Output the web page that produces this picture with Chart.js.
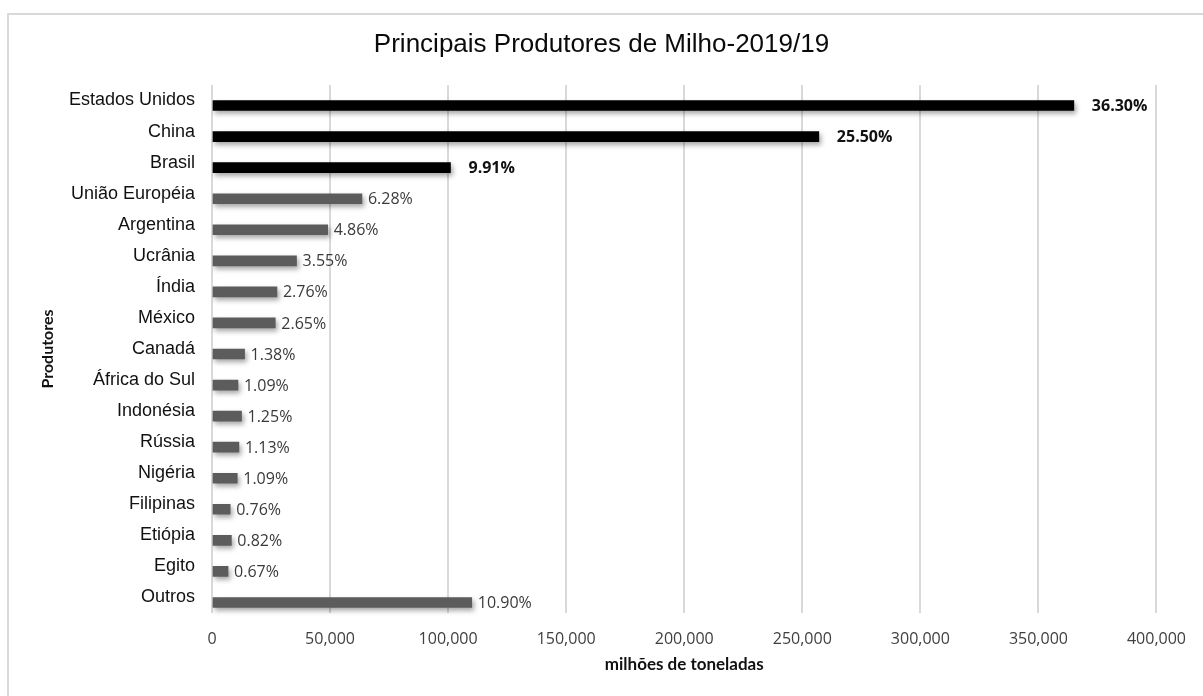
<!DOCTYPE html>
<html lang="pt">
<head>
<meta charset="UTF-8">
<title>Principais Produtores de Milho</title>
<style>
  html, body { margin: 0; padding: 0; background: #fff; }
  #milho { display: block; }
</style>
</head>
<body>
<canvas id="milho" width="1203" height="696"></canvas>
<script src="https://cdn.jsdelivr.net/npm/chart.js"></script>
<script>
// produção de milho por país (mil toneladas) e participação no total
const produtores = ['Estados Unidos', 'China', 'Brasil', 'União Européia', 'Argentina', 'Ucrânia', 'Índia',
  'México', 'Canadá', 'África do Sul', 'Indonésia', 'Rússia', 'Nigéria', 'Filipinas', 'Etiópia', 'Egito', 'Outros'];
const producao = [365000, 257000, 101000, 63500, 49000, 35800, 27500,
  26800, 13800, 11000, 12500, 11400, 10700, 7700, 8200, 6800, 110000];
const participacao = ['36.30%', '25.50%', '9.91%', '6.28%', '4.86%', '3.55%', '2.76%',
  '2.65%', '1.38%', '1.09%', '1.25%', '1.13%', '1.09%', '0.76%', '0.82%', '0.67%', '10.90%'];
const eixoX = [0, 50000, 100000, 150000, 200000, 250000, 300000, 350000, 400000];

const DESTAQUES = 3; // os três maiores ficam em preto
const corBarra = (i) => i < DESTAQUES ? '#000000' : '#5c5c5c';

// moldura cinza em volta do gráfico; título centrado na largura toda
const moldura = {
  id: 'moldura',
  afterLayout(chart) {
    const t = chart.titleBlock;
    if (t) { t.left = 0; t.right = chart.width; t.width = chart.width; }
  },
  beforeDraw(chart) {
    const ctx = chart.ctx;
    ctx.save();
    ctx.fillStyle = '#fff';
    ctx.fillRect(0, 0, chart.width, chart.height);
    ctx.strokeStyle = '#d9d9d9';
    ctx.lineWidth = 2;
    ctx.strokeRect(8, 14, chart.width + 10, chart.height + 10);
    ctx.restore();
  }
};

// sombra nas barras e rótulos de percentual
const barrasComSombra = {
  id: 'barrasComSombra',
  beforeDatasetsDraw(chart) {
    const ctx = chart.ctx;
    ctx.save();
    ctx.translate(0, 5);
    ctx.shadowColor = 'rgba(0,0,0,0.35)';
    ctx.shadowBlur = 5;
    ctx.shadowOffsetX = 2;
    ctx.shadowOffsetY = 3;
  },
  afterDatasetsDraw(chart) {
    const ctx = chart.ctx;
    ctx.restore();
    ctx.save();
    ctx.translate(0, 5);
    ctx.textBaseline = 'middle';
    ctx.textAlign = 'left';
    chart.getDatasetMeta(0).data.forEach((bar, i) => {
      const forte = i < DESTAQUES;
      ctx.font = (forte ? 'bold ' : '') + '16px "Open Sans"';
      ctx.fillStyle = forte ? '#111' : '#3a3a3a';
      ctx.fillText(participacao[i], bar.x + (forte ? 18 : 6), bar.y + 1);
    });
    ctx.restore();
  }
};

new Chart(document.getElementById('milho'), {
  type: 'bar',
  data: {
    labels: produtores,
    datasets: [{
      data: producao,
      backgroundColor: producao.map((v, i) => corBarra(i)),
      barThickness: 10,
      borderWidth: 0
    }]
  },
  options: {
    indexAxis: 'y',
    responsive: false,
    animation: false,
    events: [],
    layout: { padding: { left: 0, right: 42, top: 0, bottom: 0 } },
    plugins: {
      legend: { display: false },
      tooltip: { enabled: false },
      title: {
        display: true,
        text: 'Principais Produtores de Milho-2019/19',
        color: '#0a0a0a',
        font: { family: '"Liberation Sans", Arial', size: 26, weight: 'normal' },
        padding: { top: 29.4, bottom: 24.4 }
      }
    },
    scales: {
      x: {
        min: eixoX[0],
        max: eixoX[eixoX.length - 1],
        afterBuildTicks(scale) { scale.ticks = eixoX.map(v => ({ value: v })); },
        afterFit(scale) { scale.height = 83; },
        grid: { color: '#d9d9d9', lineWidth: 2, drawTicks: false },
        border: { display: false },
        ticks: {
          padding: 17,
          color: '#404040',
          font: { family: '"Open Sans"', size: 16 },
          callback: (v) => Number(v).toLocaleString('en-US')
        },
        title: {
          display: true,
          text: 'milhões de toneladas',
          color: '#111',
          font: { family: 'Lato', size: 17, weight: 'bold' },
          padding: { top: 0, bottom: 21 }
        }
      },
      y: {
        afterFit(scale) { scale.width = 212; },
        grid: { display: false },
        border: { display: false },
        ticks: {
          padding: 9,
          color: '#111',
          font: { family: '"Liberation Sans", Arial', size: 18 }
        },
        title: {
          display: true,
          text: 'Produtores',
          color: '#111',
          font: { family: 'Lato', size: 16, weight: 'bold' },
          padding: { top: 38, bottom: 0 }
        }
      }
    }
  },
  plugins: [moldura, barrasComSombra]
});
</script>
</body>
</html>
